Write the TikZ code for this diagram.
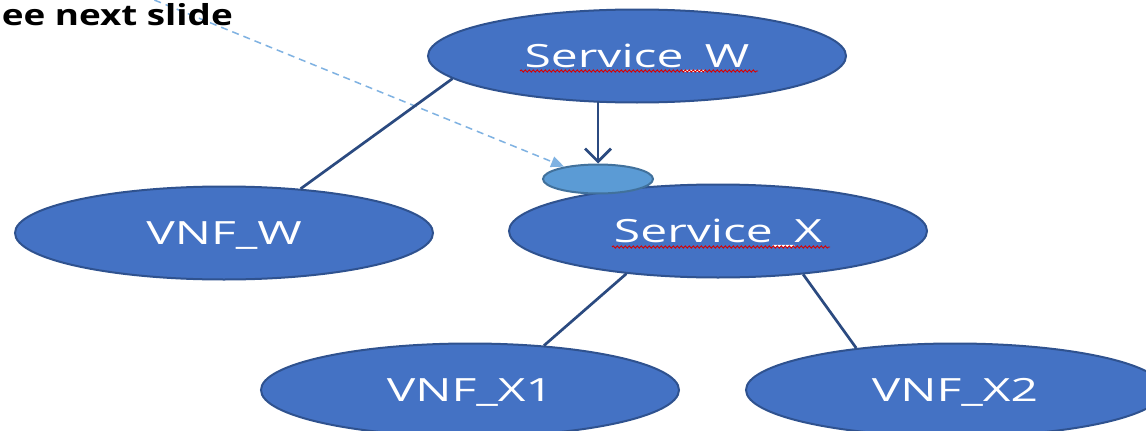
\documentclass[tikz,border=0pt]{standalone}
\usepackage{fontspec}
\setmainfont{Open Sans}
\usetikzlibrary{arrows.meta,decorations.pathmorphing,shapes.geometric,calc}
\definecolor{nodefill}{HTML}{4472C4}
\definecolor{nodeedge}{HTML}{2F528F}
\definecolor{portfill}{HTML}{5B9BD5}
\definecolor{portedge}{HTML}{41719C}
\definecolor{linkcol}{HTML}{2B4A80}
\definecolor{notecol}{HTML}{7FB2E2}
\tikzset{
  svc/.style={ellipse, draw=nodeedge, line width=2pt, fill=nodefill,
    minimum width=418pt, minimum height=93pt, inner sep=0pt,
    text=white, text height=23pt, text depth=0pt,
    font=\fontsize{32}{36}\selectfont},
  port/.style={ellipse, draw=portedge, line width=2pt, fill=portfill,
    minimum width=110pt, minimum height=29pt, inner sep=0pt},
  link/.style={draw=linkcol, line width=2.7pt},
  note/.style={draw=notecol, line width=1.5pt, dash pattern=on 7pt off 5pt},
  spell/.style={draw=red!85!black, line width=0.9pt,
    decorate, decoration={snake, amplitude=1.1pt, segment length=4pt}}
}
\newcommand{\wide}[2][1.5]{\scalebox{#1}[1]{#2}}
\begin{document}
\begin{tikzpicture}[x=1pt,y=-1pt]
  \useasboundingbox (0,0) rectangle (1146,431);
  \clip (0,0) rectangle (1146,431);
  \fill[white] (0,0) rectangle (1146,431);

  % nodes
  \node[svc] (sw)  at (637,56)  {\wide{Service\_W}};
  \node[svc] (vw)  at (224,233) {\wide{VNF\_W}};
  \node[svc] (sx)  at (718,231) {\wide{Service\_X}};
  \node[svc] (vx1) at (470,390) {\wide{VNF\_X1}};
  \node[svc] (vx2) at (955,390) {\wide{VNF\_X2}};
  \node[port] (pt) at (598,179) {};

  % spell-check underlines
  \draw[spell] ($(sw.center)+(-117,15)$) -- ($(sw.center)+(121,15)$);
  \draw[spell] ($(sx.center)+(-106,16)$) -- ($(sx.center)+(112,16)$);

  % note pointer, drawn below its text
  \coordinate (src) at (110,-18);
  \draw[note, -{Triangle[length=13pt,width=11pt]}] (src) -- (pt.160);
  \node[anchor=base east, inner sep=0pt, text height=21pt, text depth=0pt,
        font=\fontsize{29}{32}\selectfont\bfseries]
    (nt) at (233,25) {\wide[1.27]{ee next slide}};

  % connectors
  \draw[link] (sw.187.6) -- (vw.30);
  \draw[link, -{Straight Barb[length=13pt,width=26pt,line width=2.7pt]}]
    ([yshift=2pt]sw.south -| pt.north) -- (pt.north);
  \draw[link] (sx.205) -- (vx1.31);
  \draw[link] (sx.-27) -- (vx2.157);
\end{tikzpicture}
\end{document}
